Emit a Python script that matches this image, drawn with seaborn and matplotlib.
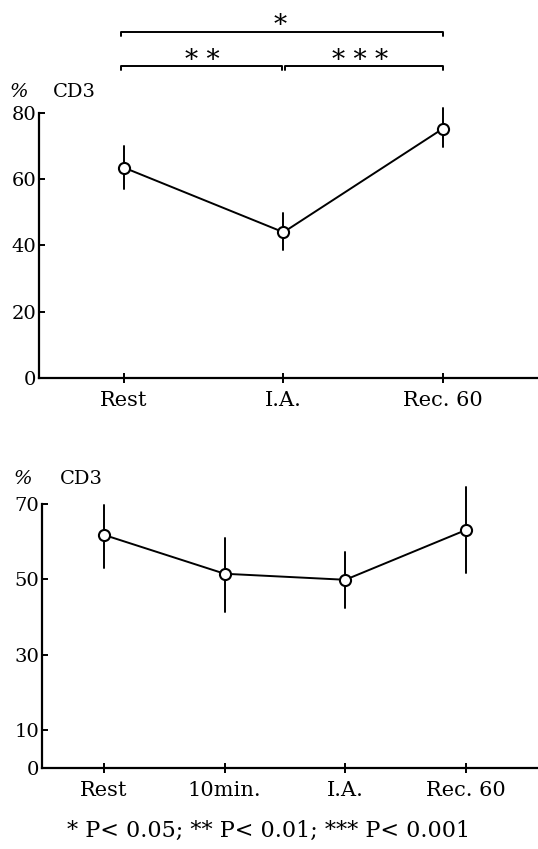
import pandas as pd
import numpy as np
import matplotlib.pyplot as plt
import seaborn as sns

sns.set_style("ticks")
plt.rcParams['font.family'] = ['DejaVu Serif', 'Liberation Serif']
plt.rcParams['text.color'] = 'black'
plt.rcParams['xtick.color'] = 'black'
plt.rcParams['ytick.color'] = 'black'
plt.rcParams['axes.edgecolor'] = 'black'

# upper panel
phases1 = ["Rest", "I.A.", "Rec. 60"]
cd3_1 = [63.5, 44.0, 75.3]
err_lo1 = [6.5, 5.4, 5.7]
err_hi1 = [6.5, 5.7, 6.3]

# lower panel
phases2 = ["Rest", "10min.", "I.A.", "Rec. 60"]
cd3_2 = [61.8, 51.5, 49.9, 63.1]
err_lo2 = [8.8, 10.1, 7.5, 11.4]
err_hi2 = [8.0, 9.5, 7.4, 11.4]

yticks1 = [0, 20, 40, 60, 80]
yticks2 = [0, 10, 30, 50, 70]


def long_table(phases, mid, lo, hi):
    rows = []
    for p, m, l, h in zip(phases, mid, lo, hi):
        rows += [(p, m - l), (p, m), (p, m + h)]
    return pd.DataFrame(rows, columns=["phase", "cd3"])


def draw(ax, df, order):
    sns.pointplot(data=df, x="phase", y="cd3", order=order, ax=ax,
                  estimator="median", errorbar=lambda v: (v.min(), v.max()),
                  color="black", linewidth=1.4, markersize=8,
                  markerfacecolor="white", markeredgecolor="black",
                  markeredgewidth=1.5, clip_on=False,
                  err_kws={"zorder": 1, "linewidth": 1.4, "clip_on": False})
    sns.despine(ax=ax)
    for s in ["left", "bottom"]:
        ax.spines[s].set_linewidth(1.6)
    ax.set_xlabel("")
    ax.set_ylabel("")
    ax.tick_params(axis="y", direction="in", length=4, width=1.4, labelsize=14, pad=2)
    ax.tick_params(axis="x", direction="inout", length=7, width=1.4, labelsize=15, pad=6)


fig = plt.figure(figsize=(5.38, 8.49), dpi=100)

ax1 = fig.add_axes([0.0725, 0.5548, 0.9275, 0.3121])
draw(ax1, long_table(phases1, cd3_1, err_lo1, err_hi1), phases1)
ax1.set_ylim(0, 80)
ax1.set_yticks(yticks1)
ax1.set_xlim(-0.533, 2.596)
ax1.text(-0.058, 1.06, "%", transform=ax1.transAxes, fontsize=14, style="italic")
ax1.text(0.028, 1.06, "CD3", transform=ax1.transAxes, fontsize=14)

# significance brackets
br_top, br_low = 104.5, 94.2
ax1.plot([-0.02, -0.02, 2.0, 2.0], [br_top - 1.2, br_top, br_top, br_top - 1.2],
         color="black", lw=1.4, clip_on=False)
ax1.plot([-0.02, -0.02, 0.99, 0.99], [br_low - 1.2, br_low, br_low, br_low - 1.2],
         color="black", lw=1.4, clip_on=False)
ax1.plot([1.01, 1.01, 2.0, 2.0], [br_low - 1.2, br_low, br_low, br_low - 1.2],
         color="black", lw=1.4, clip_on=False)
ax1.text(0.98, br_top - 0.2, "*", ha="center", va="baseline", fontsize=19, clip_on=False)
ax1.text(0.49, br_low - 0.5, "* *", ha="center", va="baseline", fontsize=19, clip_on=False)
ax1.text(1.48, br_low - 0.5, "* * *", ha="center", va="baseline", fontsize=19, clip_on=False)

ax2 = fig.add_axes([0.078, 0.0954, 0.922, 0.311])
draw(ax2, long_table(phases2, cd3_2, err_lo2, err_hi2), phases2)
ax2.set_ylim(0, 70)
ax2.set_yticks(yticks2)
ax2.set_xlim(-0.514, 3.597)
ax2.text(-0.058, 1.075, "%", transform=ax2.transAxes, fontsize=14, style="italic")
ax2.text(0.036, 1.075, "CD3", transform=ax2.transAxes, fontsize=14)

fig.text(0.5, 0.008, "* P< 0.05; ** P< 0.01; *** P< 0.001", ha="center", va="bottom",
         fontsize=16)

plt.savefig("out.png", dpi=100)
